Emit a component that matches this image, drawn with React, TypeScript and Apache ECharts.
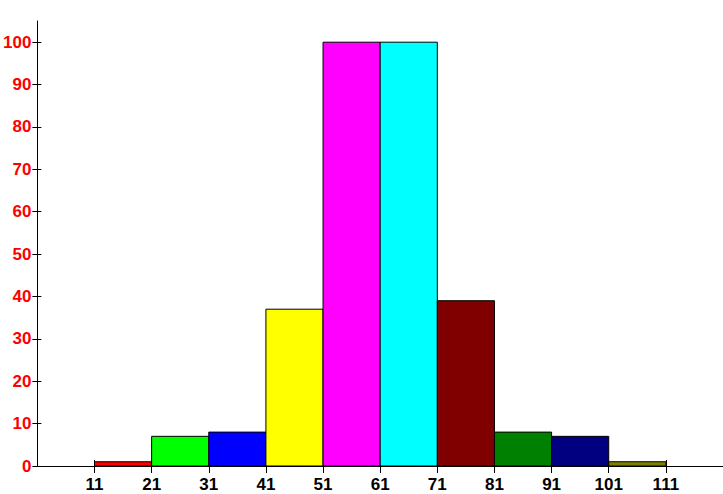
import React, { useEffect, useRef } from "react";
import * as echarts from "echarts";

const binStarts = [11, 21, 31, 41, 51, 61, 71, 81, 91, 101];
const binWidth = 10;
const binValues = [1, 7, 8, 37, 100, 100, 39, 8, 7, 1];
const binColors = ["#ff0000", "#00ff00", "#0000ff", "#ffff00", "#ff00ff", "#00ffff", "#800000", "#008000", "#000080", "#808000"];
const xTickValues = [11, 21, 31, 41, 51, 61, 71, 81, 91, 101, 111];
const yTickValues = [0, 10, 20, 30, 40, 50, 60, 70, 80, 90, 100];

export default function App() {
  const ref = useRef<HTMLDivElement>(null);
  useEffect(() => {
    if (!ref.current) return;
    const chart = echarts.init(ref.current, null, { renderer: "svg" });
    const data = binStarts.map((s, i) => [s, s + binWidth, binValues[i], i]);
    const font = "'Liberation Sans Narrow', 'Arial Narrow', 'Liberation Sans', Arial, sans-serif";
    chart.setOption({
      animation: false,
      backgroundColor: "#ffffff",
      grid: { left: 37, right: 0, top: 21, bottom: 28, containLabel: false },
      xAxis: [
        {
          type: "value",
          min: 1,
          max: 121,
          position: "bottom",
          axisLine: { show: true, onZero: false, lineStyle: { color: "#000", width: 1 } },
          axisTick: { show: true, inside: false, length: 7, customValues: xTickValues, lineStyle: { color: "#000" } },
          axisLabel: { show: true, customValues: xTickValues, color: "#000", fontSize: 17, fontWeight: "bold", fontFamily: font, margin: 10 },
          splitLine: { show: false },
        },
        {
          type: "value",
          min: 1,
          max: 121,
          position: "bottom",
          axisLine: { show: false },
          axisTick: { show: true, inside: true, length: 6, customValues: xTickValues, lineStyle: { color: "#000" } },
          axisLabel: { show: false },
          splitLine: { show: false },
        },
      ],
      yAxis: [
        {
          type: "value",
          min: 0,
          max: 105,
          position: "left",
          axisLine: { show: true, onZero: false, lineStyle: { color: "#000", width: 1 } },
          axisTick: { show: true, inside: false, length: 5, customValues: yTickValues, lineStyle: { color: "#000" } },
          axisLabel: { show: true, customValues: yTickValues, color: "#ff0000", fontSize: 17, fontWeight: "bold", fontFamily: font, margin: 6 },
          splitLine: { show: false },
        },
        {
          type: "value",
          min: 0,
          max: 105,
          position: "left",
          axisLine: { show: false },
          axisTick: { show: true, inside: true, length: 4, customValues: yTickValues, lineStyle: { color: "#000" } },
          axisLabel: { show: false },
          splitLine: { show: false },
        },
      ],
      series: [
        {
          type: "custom",
          xAxisIndex: 0,
          yAxisIndex: 0,
          data,
          renderItem: (params: any, api: any) => {
            const x0 = api.value(0);
            const x1 = api.value(1);
            const v = api.value(2);
            const idx = api.value(3);
            const p0 = api.coord([x0, v]);
            const p1 = api.coord([x1, 0]);
            return {
              type: "rect",
              shape: { x: p0[0], y: p0[1], width: p1[0] - p0[0], height: p1[1] - p0[1] },
              style: { fill: binColors[idx], stroke: "#000", lineWidth: 1 },
            };
          },
        },
      ],
    });
    return () => chart.dispose();
  }, []);
  return <div ref={ref} style={{ position: "fixed", left: 0, top: 0, width: 723, height: 494 }} />;
}
